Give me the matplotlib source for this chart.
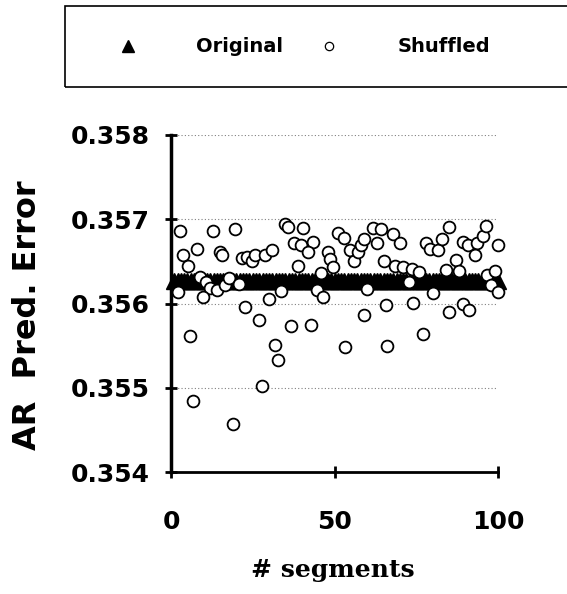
import matplotlib
matplotlib.use("Agg")
import matplotlib.pyplot as plt
from matplotlib.lines import Line2D
from matplotlib.patches import Rectangle
from matplotlib.ticker import FormatStrFormatter
import numpy as np

# prediction error of the original series (same for every segment)
orig_value = 0.35627
segments = np.arange(1, 101)

# shuffled surrogates
shuf_x = [2.75, 3.8, 5.1, 7.8, 12.9, 19.7, 15.0, 15.6, 21.7, 23.1, 24.8, 25.8, 28.8, 30.9,
          34.9, 35.7, 40.5, 37.7, 39.7, 43.5, 41.8, 38.7, 47.9, 48.6, 49.6, 45.9, 51.0,
          2.0, 8.9, 10.7, 11.9, 9.9, 14.0, 16.6, 17.8, 20.9, 22.7, 26.8, 29.9, 33.6, 5.8,
          6.6, 18.9, 27.8, 31.9, 32.6, 36.7, 42.8, 44.5, 46.6,
          52.9, 54.7, 55.9, 57.3, 58.0, 59.0, 61.9, 64.1, 63.1, 68.0, 70.0, 65.2, 68.5,
          71.0, 73.6, 75.9, 78.0, 79.2, 81.7, 83.0, 85.1, 89.2, 90.9, 93.6, 95.3, 96.3,
          92.9, 100.0, 84.1, 87.2, 88.2, 96.7, 99.0, 98.0, 100.0, 72.9, 60.0, 80.1, 59.0,
          65.9, 74.0, 85.1, 89.2, 91.2, 53.1, 66.0, 77.0]
shuf_y = [0.35686, 0.35658, 0.35645, 0.35665, 0.35686, 0.35688, 0.35661, 0.35657, 0.35654,
          0.35655, 0.35651, 0.35657, 0.35658, 0.35663, 0.35694, 0.35691, 0.35690, 0.35672,
          0.35669, 0.35673, 0.35661, 0.35645, 0.35661, 0.35653, 0.35643, 0.35636, 0.35684,
          0.35614, 0.35631, 0.35625, 0.35618, 0.35608, 0.35616, 0.35622, 0.35630, 0.35623,
          0.35596, 0.35580, 0.35605, 0.35615, 0.35561, 0.35484, 0.35457, 0.35502, 0.35551,
          0.35533, 0.35573, 0.35574, 0.35616, 0.35608,
          0.35678, 0.35663, 0.35651, 0.35661, 0.35669, 0.35676, 0.35690, 0.35688, 0.35672,
          0.35682, 0.35672, 0.35650, 0.35645, 0.35643, 0.35641, 0.35637, 0.35672, 0.35665,
          0.35664, 0.35676, 0.35691, 0.35673, 0.35669, 0.35672, 0.35680, 0.35692, 0.35657,
          0.35669, 0.35640, 0.35652, 0.35639, 0.35634, 0.35638, 0.35622, 0.35614, 0.35626,
          0.35617, 0.35613, 0.35586, 0.35598, 0.35601, 0.35590, 0.35600, 0.35592, 0.35548,
          0.35550, 0.35564]

y_ticks = [0.354, 0.355, 0.356, 0.357, 0.358]
x_ticks = [0, 50, 100]

fig = plt.figure(figsize=(5.67, 5.94), dpi=100)
ax = fig.add_axes([171 / 567, 1 - 472 / 594, 327 / 567, 337 / 594])

ax.plot(segments, [orig_value] * len(segments), linestyle="none", marker="^",
        markersize=11, color="black", clip_on=False, zorder=3)
ax.plot(shuf_x, shuf_y, linestyle="none", marker="o", markersize=8.5,
        markerfacecolor="white", markeredgecolor="black", markeredgewidth=1.3,
        clip_on=False, zorder=4)

ax.set_xlim(0, 100)
ax.set_ylim(0.354, 0.358)
ax.set_xticks(x_ticks)
ax.set_yticks(y_ticks)
ax.yaxis.set_major_formatter(FormatStrFormatter("%.3f"))
ax.yaxis.grid(True, linestyle=(0, (1, 2)), color="gray", linewidth=0.8)
ax.set_axisbelow(True)

for side in ["top", "right"]:
    ax.spines[side].set_visible(False)
ax.spines["left"].set_linewidth(2.5)
ax.spines["bottom"].set_linewidth(2.0)
ax.tick_params(direction="inout", length=9, width=2)
ax.tick_params(axis="x", pad=23)
ax.tick_params(axis="y", pad=11)
for lbl in ax.get_xticklabels() + ax.get_yticklabels():
    lbl.set_fontfamily("DejaVu Sans")
    lbl.set_fontweight("bold")
    lbl.set_fontsize(18)

ax.set_ylabel("AR  Pred. Error", fontfamily="DejaVu Sans", fontweight="bold",
              fontsize=23, va="center")
ax.yaxis.set_label_coords(-0.44, 0.466)
ax.set_xlabel("# segments", fontfamily="DejaVu Serif", fontweight="bold",
              fontsize=18, va="center")
ax.xaxis.set_label_coords(0.495, -0.29)

# legend box at top
fig.patches.append(Rectangle((65 / 567, 1 - 87 / 594), 1.0, 81 / 594, fill=False,
                             edgecolor="black", linewidth=1.2, transform=fig.transFigure))
handles = [Line2D([], [], linestyle="none", marker="^", markersize=8, color="black"),
           Line2D([], [], linestyle="none", marker="o", markersize=6,
                  markerfacecolor="white", markeredgecolor="black", markeredgewidth=0.9)]
fig.legend(handles, ["Original", "Shuffled"], loc="center left",
           bbox_to_anchor=(118 / 567, 1 - 47 / 594), ncol=2, frameon=False,
           prop={"family": "DejaVu Sans", "weight": "bold", "size": 14},
           handlelength=1.0, handletextpad=3.0, columnspacing=1.9,
           borderpad=0, borderaxespad=0)

fig.savefig("out.png", dpi=100)
